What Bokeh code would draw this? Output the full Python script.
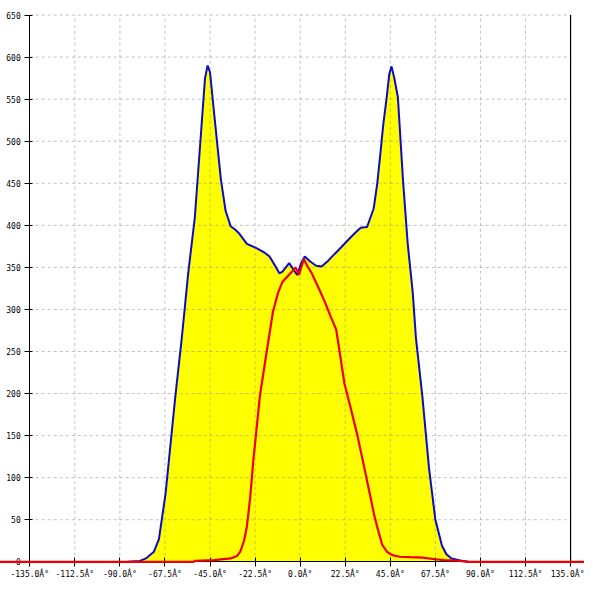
from bokeh.plotting import figure
from bokeh.models import Range1d, FixedTicker, LinearAxis
from bokeh.embed import file_html
from bokeh.resources import INLINE

# ---- data ----
x_ticks = [-135, -112.5, -90, -67.5, -45, -22.5, 0, 22.5, 45, 67.5, 90, 112.5, 135]
x_tick_labels = ["-135.0Â°", "-112.5Â°", "-90.0Â°", "-67.5Â°", "-45.0Â°", "-22.5Â°", "0.0Â°",
                 "22.5Â°", "45.0Â°", "67.5Â°", "90.0Â°", "112.5Â°", "135.0Â°"]
y_ticks = [0, 50, 100, 150, 200, 250, 300, 350, 400, 450, 500, 550, 600, 650]
y_tick_labels = ["0", "50", "100", "150", "200", "250", "300", "350", "400", "450",
                 "500", "550", "600", "650"]

blue_x = [-86, -80, -77, -73, -70.5, -67.2, -62.3, -59.1, -55.9, -52.6, -49.4, -47.5, -46.2,
          -45, -42.9, -39.6, -37.2, -34.7, -32.5, -30.7, -26.6, -21.8, -18, -15.3, -12.5,
          -10.4, -8.8, -5.5, -3.5, -1.5, 0.5, 2.3, 5, 8, 10.7, 14, 17.2, 20.5, 23.7, 27,
          30.2, 33.4, 36.7, 38.5, 39.9, 41.5, 43.2, 44.5, 45.6, 47, 48.8, 51.3, 53.7, 56.2,
          57.8, 61, 64.3, 67.5, 70.8, 73, 75.6, 80, 84]
blue_v = [0, 1, 4, 12, 27, 81, 197, 266, 343, 409, 513, 575, 590,
          582, 532, 455, 417, 399, 395, 391, 378, 373, 368, 363, 352,
          343, 345, 355, 348, 341, 355, 363, 357, 352, 351, 358, 366, 374, 382, 390,
          397, 398, 420, 450, 482, 520, 552, 580, 589, 575, 552, 455, 378, 320,
          266, 197, 112, 50, 19, 9, 4, 1.5, 0]

red_x = [-150, -53, -52.6, -42.9, -34.7, -31.5, -29.9, -28, -26.6, -25, -23.4, -20.1, -16.9,
         -13.6, -11, -8.8, -6, -4, -2.3, -0.6, 1.8, 3.5, 5.8, 9.9, 12.3, 15, 18, 20, 22.1,
         25, 28.6, 32, 35.1, 37, 39.2, 41, 43.3, 46, 49.7, 55, 61, 67.5, 72, 77.3, 84, 145]
red_v = [0, 0, 1, 2, 4, 7, 12, 25, 42, 75, 120, 197, 247,
         297, 320, 333, 340, 345, 350, 341, 360, 352, 343, 322, 309, 293, 276, 245, 212,
         185, 150, 112, 77, 55, 35, 20, 12, 8, 6, 5.5, 5, 3, 2, 1.5, 0, 0]

X_MIN, X_MAX = -135, 135
Y_MIN, Y_MAX = 0, 650

W = H = 584
p = figure(width=W, height=H, output_backend="svg", toolbar_location=None,
           x_range=Range1d(-149.6, 141.95), y_range=Range1d(-27.0, 667.3),
           min_border=0, x_axis_type=None, y_axis_type=None)
p.outline_line_color = None
p.background_fill_color = "white"
p.xgrid.visible = False
p.ygrid.visible = False

# fill under the blue series
p.varea(x=blue_x, y1=0, y2=blue_v, fill_color="#ffff00")

# dashed grid limited to the plot box
gx = [t for t in x_ticks if X_MIN < t < X_MAX]
gy = [t for t in y_ticks if t > Y_MIN]
p.segment(x0=gx, y0=[Y_MIN] * len(gx), x1=gx, y1=[Y_MAX] * len(gx),
          line_color="#909090", line_alpha=0.55, line_width=1, line_dash="3 3")
p.segment(x0=[X_MIN] * len(gy), y0=gy, x1=[X_MAX] * len(gy), y1=gy,
          line_color="#909090", line_alpha=0.55, line_width=1, line_dash="3 3")
# right border line
p.segment(x0=[X_MAX], y0=[Y_MIN], x1=[X_MAX], y1=[Y_MAX], line_color="black", line_width=1.2)

p.line(blue_x, blue_v, line_color="#0a0ac8", line_width=2)
p.line(red_x, red_v, line_color="#ee0000", line_width=2.2, level="overlay")

font = "DejaVu Sans Mono"
xa = LinearAxis(fixed_location=0, bounds=(X_MIN, X_MAX))
xa.ticker = FixedTicker(ticks=x_ticks, minor_ticks=[])
xa.major_label_overrides = {t: l for t, l in zip(x_ticks, x_tick_labels)}
xa.major_tick_out = 5
xa.major_tick_in = 4
xa.minor_tick_out = 0
xa.minor_tick_in = 0
xa.major_label_standoff = 3
xa.major_label_text_font = font
xa.major_label_text_font_size = "8px"
xa.major_label_text_color = "black"
xa.axis_line_color = "black"
p.add_layout(xa, "below")

ya = LinearAxis(fixed_location=X_MIN, bounds=(Y_MIN, Y_MAX))
ya.ticker = FixedTicker(ticks=y_ticks, minor_ticks=[])
ya.major_label_overrides = {t: l for t, l in zip(y_ticks, y_tick_labels)}
ya.major_tick_out = 5
ya.major_tick_in = 3
ya.minor_tick_out = 0
ya.minor_tick_in = 0
ya.major_label_standoff = 4
ya.major_label_text_font = font
ya.major_label_text_font_size = "8px"
ya.major_label_text_color = "black"
ya.axis_line_color = "black"
p.add_layout(ya, "left")

open("out.html", "w").write(file_html(p, INLINE))
